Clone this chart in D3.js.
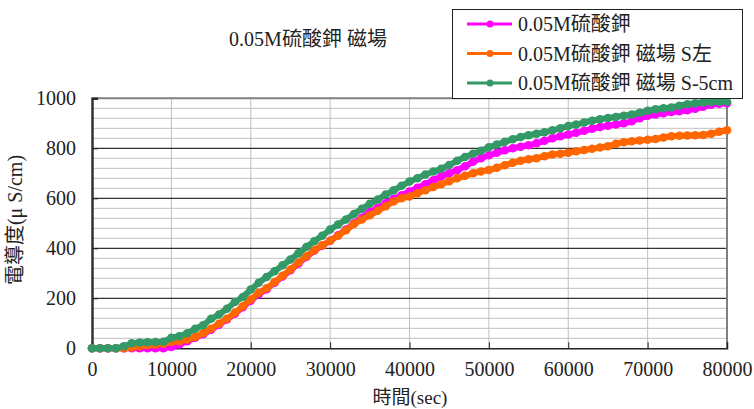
<!DOCTYPE html>
<html><head><meta charset="utf-8">
<script src="https://cdn.jsdelivr.net/npm/d3@7"></script>
<style>
body{margin:0;background:#fff;}
svg text{font-family:"Liberation Serif","Noto Sans CJK TC",serif !important;}
</style></head>
<body><svg id="c" width="754" height="409"></svg>
<script>
const seriesNames = ["0.05M硫酸鉀", "0.05M硫酸鉀 磁場 S左", "0.05M硫酸鉀 磁場 S-5cm"];
const seriesColors = ["#FF00FF", "#FF6600", "#339966"];
const timeSec = d3.range(0, 80001, 1000);
const pinkValues = [0,0,0,0,0,0,0,0,0,0,5,15,28,42,56,74,94,115,138,164,190,216,236,262,287,312,338,365,390,410,430,452,475,500,522,545,562,580,598,612,627,642,656,672,688,700,712,728,746,760,772,782,792,800,806,812,820,830,840,848,855,862,870,878,885,890,895,900,908,920,930,935,940,945,948,952,958,966,974,978,980];
const orangeValues = [0,0,0,0,0,3,8,12,15,18,25,28,35,45,60,78,98,118,142,168,195,222,240,265,290,315,342,368,392,412,430,450,472,497,515,532,550,568,587,600,607,620,632,645,656,668,680,690,700,707,713,722,732,742,750,756,760,768,775,778,782,788,793,798,803,808,818,824,828,831,834,837,843,848,850,851,852,853,858,866,872];
const greenValues = [0,0,0,0,8,20,23,24,25,26,42,48,60,78,92,118,135,158,185,205,235,262,285,308,332,355,380,405,428,450,475,495,515,537,558,578,595,615,632,650,667,680,695,707,718,733,750,765,778,790,804,815,826,836,845,852,858,864,872,880,889,895,903,910,916,921,925,930,935,942,950,956,960,963,970,976,980,983,985,986,986];
const allValues = [pinkValues, orangeValues, greenValues];
const xTicks = [0,10000,20000,30000,40000,50000,60000,70000,80000];
const yTicks = [0,200,400,600,800,1000];
const title = "0.05M硫酸鉀 磁場";
const xTitle = "時間(sec)";
const yTitle = "電導度(μ S/cm)";

const svg = d3.select("#c");
const L=92, R=727, T=98.3, B=348.3;
const x = d3.scaleLinear().domain([0,80000]).range([L,R]);
const y = d3.scaleLinear().domain([0,1000]).range([B,T]);

// minor horizontal grid
svg.append("g").selectAll("line").data(d3.range(40,1000,40).filter(v=>v%200!==0)).join("line")
  .attr("x1",L).attr("x2",R).attr("y1",d=>y(d)).attr("y2",d=>y(d))
  .attr("stroke","#c0c0c0").attr("stroke-width",1);
// vertical grid
svg.append("g").selectAll("line").data(xTicks.slice(1,-1)).join("line")
  .attr("x1",d=>x(d)).attr("x2",d=>x(d)).attr("y1",T).attr("y2",B)
  .attr("stroke","#c0c0c0").attr("stroke-width",1);
// major horizontal grid
svg.append("g").selectAll("line").data(yTicks.slice(1,-1)).join("line")
  .attr("x1",L).attr("x2",R).attr("y1",d=>y(d)).attr("y2",d=>y(d))
  .attr("stroke","#000").attr("stroke-width",1);

// border top/right
svg.append("line").attr("x1",L).attr("x2",R).attr("y1",T).attr("y2",T).attr("stroke","#808080").attr("stroke-width",2);
svg.append("line").attr("x1",R).attr("x2",R).attr("y1",T).attr("y2",B).attr("stroke","#808080").attr("stroke-width",2);

// axes
const xAxis = d3.axisBottom(x).tickValues(xTicks).tickSize(-6).tickPadding(14).tickFormat(d3.format("d"));
const gx = svg.append("g").attr("transform",`translate(0,${B})`).call(xAxis);
gx.select(".domain").attr("stroke","#222").attr("stroke-width",1.5);
gx.selectAll(".tick line").attr("stroke","#222");
gx.selectAll("text").attr("font-size",20).attr("fill","#222");

const yAxis = d3.axisLeft(y).tickValues(yTicks).tickSize(-6).tickPadding(16).tickFormat(d3.format("d"));
const gy = svg.append("g").attr("transform",`translate(${L},0)`).call(yAxis);
gy.select(".domain").attr("stroke","#333").attr("stroke-width",2.5);
gy.selectAll(".tick line").attr("stroke","#222");
gy.selectAll("text").attr("font-size",20).attr("fill","#222");

// series
const line = d3.line().x((d,i)=>x(timeSec[i])).y(d=>y(d));
allValues.forEach((vals,k)=>{
  const g = svg.append("g");
  g.append("path").datum(vals).attr("d",line).attr("fill","none")
    .attr("stroke",seriesColors[k]).attr("stroke-width",6).attr("stroke-linejoin","round");
  g.selectAll("circle").data(vals).join("circle")
    .attr("cx",(d,i)=>x(timeSec[i])).attr("cy",d=>y(d)).attr("r",4.3)
    .attr("fill",seriesColors[k]);
});

// title
svg.append("text").attr("x",308).attr("y",46).attr("text-anchor","middle")
  .attr("font-size",20).attr("fill","#222").text(title);
// x title
svg.append("text").attr("x",410).attr("y",404).attr("text-anchor","middle")
  .attr("font-size",19).attr("fill","#222").text(xTitle);
// y title
svg.append("text").attr("transform","translate(22,220) rotate(-90)").attr("text-anchor","middle")
  .attr("font-size",20).attr("fill","#222").text(yTitle);

// legend
const lg = svg.append("g");
lg.append("rect").attr("x",452.5).attr("y",9.5).attr("width",290).attr("height",89)
  .attr("fill","#fff").attr("stroke","#222").attr("stroke-width",1);
seriesNames.forEach((n,k)=>{
  const cy = 24 + k*29.5;
  lg.append("line").attr("x1",467).attr("x2",512).attr("y1",cy).attr("y2",cy)
    .attr("stroke",seriesColors[k]).attr("stroke-width",3);
  lg.append("circle").attr("cx",490).attr("cy",cy).attr("r",3.5).attr("fill",seriesColors[k]);
  lg.append("text").attr("x",518).attr("y",cy+7).attr("font-size",20).attr("fill","#222").text(n);
});
</script></body></html>
